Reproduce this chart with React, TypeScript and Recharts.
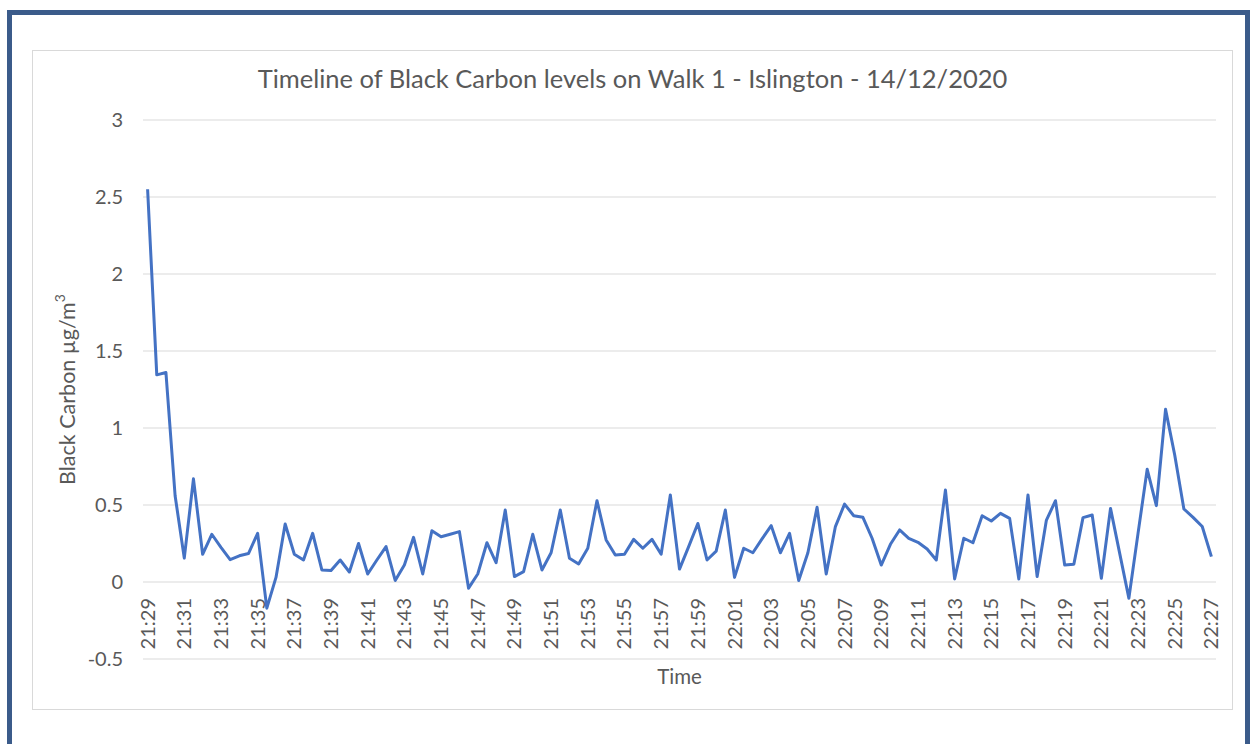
import React from 'react';
import { LineChart, Line, XAxis, YAxis, CartesianGrid } from 'recharts';

const TIMES = [
  '21:29:00', '21:29:30', '21:30:00', '21:30:30', '21:31:00', '21:31:30', '21:32:00', '21:32:30',
  '21:33:00', '21:33:30', '21:34:00', '21:34:30', '21:35:00', '21:35:30', '21:36:00', '21:36:30',
  '21:37:00', '21:37:30', '21:38:00', '21:38:30', '21:39:00', '21:39:30', '21:40:00', '21:40:30',
  '21:41:00', '21:41:30', '21:42:00', '21:42:30', '21:43:00', '21:43:30', '21:44:00', '21:44:30',
  '21:45:00', '21:45:30', '21:46:00', '21:46:30', '21:47:00', '21:47:30', '21:48:00', '21:48:30',
  '21:49:00', '21:49:30', '21:50:00', '21:50:30', '21:51:00', '21:51:30', '21:52:00', '21:52:30',
  '21:53:00', '21:53:30', '21:54:00', '21:54:30', '21:55:00', '21:55:30', '21:56:00', '21:56:30',
  '21:57:00', '21:57:30', '21:58:00', '21:58:30', '21:59:00', '21:59:30', '22:00:00', '22:00:30',
  '22:01:00', '22:01:30', '22:02:00', '22:02:30', '22:03:00', '22:03:30', '22:04:00', '22:04:30',
  '22:05:00', '22:05:30', '22:06:00', '22:06:30', '22:07:00', '22:07:30', '22:08:00', '22:08:30',
  '22:09:00', '22:09:30', '22:10:00', '22:10:30', '22:11:00', '22:11:30', '22:12:00', '22:12:30',
  '22:13:00', '22:13:30', '22:14:00', '22:14:30', '22:15:00', '22:15:30', '22:16:00', '22:16:30',
  '22:17:00', '22:17:30', '22:18:00', '22:18:30', '22:19:00', '22:19:30', '22:20:00', '22:20:30',
  '22:21:00', '22:21:30', '22:22:00', '22:22:30', '22:23:00', '22:23:30', '22:24:00', '22:24:30',
  '22:25:00', '22:25:30', '22:26:00', '22:26:30', '22:27:00',
];

// black carbon, µg/m³
const BC = [
  2.55, 1.345, 1.36, 0.56, 0.155, 0.67, 0.18, 0.31, 0.225, 0.145,
  0.17, 0.185, 0.316, -0.17, 0.03, 0.377, 0.18, 0.143, 0.316, 0.078,
  0.074, 0.143, 0.065, 0.25, 0.052, 0.143, 0.23, 0.01, 0.11, 0.29,
  0.052, 0.333, 0.294, 0.31, 0.327, -0.04, 0.052, 0.255, 0.125, 0.467,
  0.035, 0.067, 0.31, 0.078, 0.19, 0.467, 0.154, 0.117, 0.219, 0.528,
  0.273, 0.175, 0.18, 0.277, 0.219, 0.277, 0.18, 0.565, 0.084, 0.23,
  0.38, 0.143, 0.2, 0.467, 0.03, 0.219, 0.19, 0.28, 0.366, 0.19,
  0.316, 0.01, 0.19, 0.485, 0.052, 0.36, 0.506, 0.43, 0.42, 0.284,
  0.11, 0.245, 0.338, 0.284, 0.258, 0.214, 0.143, 0.597, 0.02, 0.284,
  0.255, 0.43, 0.396, 0.446, 0.413, 0.02, 0.565, 0.035, 0.4, 0.528,
  0.11, 0.115, 0.418, 0.435, 0.024, 0.478, 0.186, -0.106, 0.316, 0.732,
  0.496, 1.121, 0.825, 0.474, 0.42, 0.36, 0.165,
];

const Y_TICKS = [-0.5, 0, 0.5, 1, 1.5, 2, 2.5, 3];

const TITLE = 'Timeline of Black Carbon levels on Walk 1 - Islington - 14/12/2020';

const data = TIMES.map((t, i) => ({ time: t, bc: BC[i] }));

const FONT = 'Lato, "Open Sans", sans-serif';
const GREY = '#595959';
const ZERO_Y = 547; // chart y where the category labels end (just under the 0 line)

const TimeTick = (props: any) => {
  const { x, payload } = props;
  const label = String(payload.value).slice(0, 5);
  return (
    <text
      x={x}
      y={ZERO_Y}
      dy="0.35em"
      transform={`rotate(-90, ${x}, ${ZERO_Y})`}
      textAnchor="end"
      fill={GREY}
      fontSize={20}
      fontFamily={FONT}
    >
      {label}
    </text>
  );
};

const YTitle = (props: any) => {
  const vb = props.viewBox;
  const cx = vb.x + 14;
  const cy = vb.y + vb.height / 2;
  return (
    <text
      x={cx}
      y={cy}
      dy="0.35em"
      transform={`rotate(-90, ${cx}, ${cy})`}
      textAnchor="middle"
      fill={GREY}
      fontSize={21.5}
      fontFamily={FONT}
    >
      Black Carbon µg/m
      <tspan fontSize={14} dy="-0.7em">3</tspan>
    </text>
  );
};

const XTitle = (props: any) => {
  const vb = props.viewBox;
  return (
    <text
      x={vb.x + vb.width / 2}
      y={vb.y + 18}
      dy="0.35em"
      textAnchor="middle"
      fill={GREY}
      fontSize={20.5}
      fontFamily={FONT}
    >
      Time
    </text>
  );
};

export default function App() {
  return (
    <div
      style={{
        position: 'absolute',
        left: 7,
        top: 10,
        width: 1243,
        height: 734,
        border: '5px solid #3b5b8a',
        borderBottom: 'none',
        boxSizing: 'border-box',
        background: '#fff',
      }}
    >
      <div
        style={{
          position: 'absolute',
          left: 20,
          top: 35,
          width: 1201,
          height: 660,
          border: '1px solid #d9d9d9',
          boxSizing: 'border-box',
          background: '#fff',
        }}
      >
        <div
          style={{
            position: 'absolute',
            left: 0,
            top: 12,
            width: '100%',
            textAlign: 'center',
            fontFamily: FONT,
            fontSize: 25.5,
            color: GREY,
          }}
        >
          {TITLE}
        </div>
        <LineChart
          width={1199}
          height={658}
          data={data}
          margin={{ top: 69, right: 16, bottom: 0, left: 20 }}
        >
          <CartesianGrid vertical={false} stroke="#d9d9d9" strokeWidth={1} />
          <XAxis
            dataKey="time"
            interval={3}
            height={50}
            axisLine={false}
            tickLine={false}
            tick={<TimeTick />}
            padding={{ left: 4.6, right: 4.6 }}
            label={XTitle}
          />
          <YAxis
            width={90}
            domain={[-0.5, 3]}
            ticks={Y_TICKS}
            axisLine={false}
            tickLine={false}
            tickMargin={14}
            tick={{ fill: GREY, fontSize: 20, fontFamily: FONT }}
            label={YTitle}
          />
          <Line
            type="linear"
            dataKey="bc"
            stroke="#4472c4"
            strokeWidth={3}
            dot={false}
            strokeLinejoin="round"
            isAnimationActive={false}
          />
        </LineChart>
      </div>
    </div>
  );
}
